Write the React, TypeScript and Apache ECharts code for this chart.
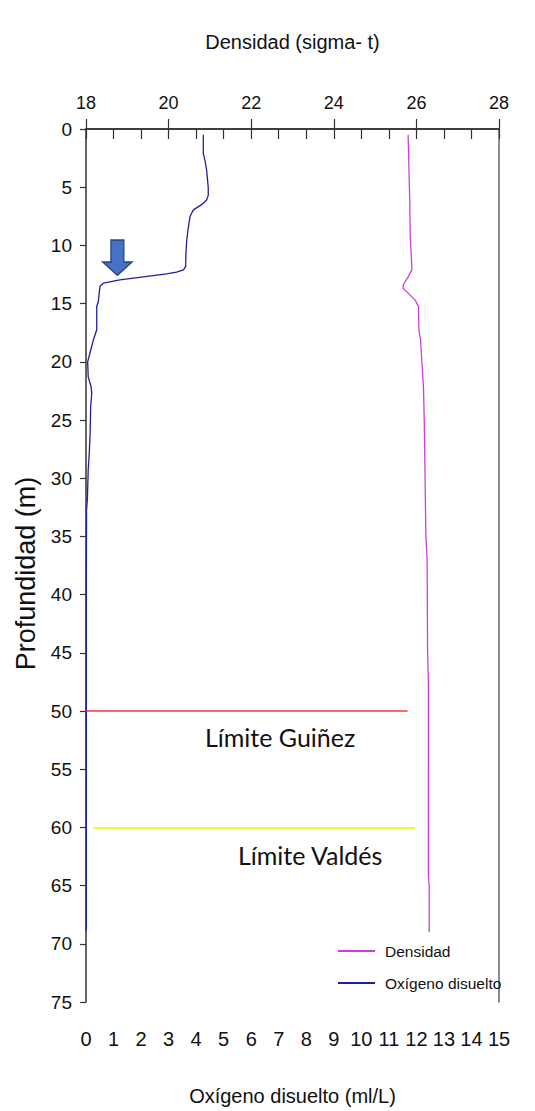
import React, { useEffect, useRef } from "react";
import * as echarts from "echarts";

// Oxygen profile (depth m, ml/L)
const oxyDepth = [0.5, 2.1, 2.7, 3.5, 5.0, 5.7, 6.1, 6.5, 6.95, 7.5, 8.4, 9.5, 10.6, 11.8, 12.1, 12.3, 12.45, 12.7, 12.96, 13.25, 13.5, 14.1, 14.8, 15.25, 17.25, 18.1, 19.2, 20.0, 21.3, 22.1, 22.7, 23.8, 26.1, 27.8, 29.3, 31.8, 32.7, 40, 50, 60, 68.9];
const oxyValue = [4.26, 4.26, 4.32, 4.38, 4.44, 4.44, 4.38, 4.2, 3.9, 3.78, 3.72, 3.66, 3.63, 3.62, 3.54, 3.29, 2.93, 2.08, 1.23, 0.63, 0.51, 0.48, 0.45, 0.39, 0.39, 0.27, 0.15, 0.06, 0.08, 0.18, 0.21, 0.17, 0.15, 0.12, 0.08, 0.05, 0.02, 0.01, 0.01, 0.01, 0.01];

// Density profile (depth m, sigma-t)
const densDepth = [0.5, 3.5, 6.4, 9.2, 11.2, 12.1, 12.7, 13.4, 13.7, 14.1, 14.7, 15.25, 17.25, 18.1, 20.4, 22.1, 25, 30, 35, 37, 44.7, 47.5, 64.2, 65, 69];
const densValue = [25.8, 25.82, 25.84, 25.85, 25.88, 25.89, 25.8, 25.68, 25.68, 25.8, 25.97, 26.05, 26.06, 26.1, 26.14, 26.17, 26.19, 26.21, 26.23, 26.26, 26.27, 26.29, 26.29, 26.31, 26.31];

// Axis tick settings
const densityRange = [18, 28, 2];
const oxygenRange = [0, 15, 1];
const depthRange = [0, 75, 5];

// Annotations
const limits = [
  { name: "Límite Guiñez", depth: 50, from: 0, to: 11.68, color: "#ff3535", labelAt: [7.05, 52.2] },
  { name: "Límite Valdés", depth: 60, from: 0.27, to: 11.95, color: "#f5f200", labelAt: [8.14, 62.4] },
];
const arrowAt = [1.14, 11.05];

const SANS = "'Liberation Sans', Arial, sans-serif";
const AX = "#333";

export default function App() {
  const ref = useRef<HTMLDivElement>(null);
  useEffect(() => {
    if (!ref.current) return;
    const chart = echarts.init(ref.current, undefined, { renderer: "svg" });
    const oxyData = oxyDepth.map((d, i) => [oxyValue[i], d]);
    const densData = densDepth.map((d, i) => [densValue[i], d]);
    const option: any = {
      animation: false,
      backgroundColor: "#fff",
      grid: { left: 86, right: 36, top: 129, bottom: 108, containLabel: false },
      legend: {
        orient: "vertical",
        left: 338,
        top: 942,
        padding: 0,
        itemWidth: 37,
        itemHeight: 2,
        itemGap: 14,
        icon: "rect",
        data: ["Densidad", "Oxígeno disuelto"],
        textStyle: { fontFamily: SANS, fontSize: 15.5, color: "#111", lineHeight: 18, padding: [0, 0, 0, 5] },
      },
      xAxis: [
        {
          type: "value",
          position: "top",
          min: densityRange[0],
          max: densityRange[1],
          interval: densityRange[2],
          name: "Densidad (sigma- t)",
          nameLocation: "middle",
          nameGap: 87,
          nameTextStyle: { fontFamily: SANS, fontSize: 20, color: "#111", verticalAlign: "middle" },
          axisLine: { show: true, lineStyle: { color: AX, width: 1.5 } },
          axisTick: { show: true, length: 10, lineStyle: { color: AX, width: 1.2 } },
          axisLabel: { fontFamily: SANS, fontSize: 18, color: "#111", margin: 17 },
          splitLine: { show: false },
        },
        {
          type: "value",
          position: "bottom",
          min: oxygenRange[0],
          max: oxygenRange[1],
          interval: oxygenRange[2],
          name: "Oxígeno disuelto (ml/L)",
          nameLocation: "middle",
          nameGap: 94,
          nameTextStyle: { fontFamily: SANS, fontSize: 20, color: "#111", verticalAlign: "middle" },
          axisLine: { show: true, lineStyle: { color: AX, width: 1.5 } },
          axisTick: { show: true, length: 10, lineStyle: { color: AX, width: 1.2 } },
          axisLabel: { fontFamily: SANS, fontSize: 20, color: "#111", margin: 27 },
          splitLine: { show: false },
        },
      ],
      yAxis: [
        {
          type: "value",
          inverse: true,
          min: depthRange[0],
          max: depthRange[1],
          interval: depthRange[2],
          name: "Profundidad (m)",
          nameLocation: "middle",
          nameGap: 59,
          nameTextStyle: { fontFamily: SANS, fontSize: 27, color: "#111", verticalAlign: "middle", padding: [0, 16, 0, 0] },
          axisLine: { show: true, lineStyle: { color: AX, width: 1.5 } },
          axisTick: { show: true, length: 6, lineStyle: { color: AX, width: 1.2 } },
          axisLabel: { fontFamily: SANS, fontSize: 19, color: "#111", margin: 14 },
          splitLine: { show: false },
        },
        {
          type: "value",
          position: "right",
          inverse: true,
          min: depthRange[0],
          max: depthRange[1],
          interval: depthRange[2],
          axisLine: { show: true, lineStyle: { color: "#666", width: 1.5 } },
          axisTick: { show: false },
          axisLabel: { show: false },
          splitLine: { show: false },
        },
      ],
      series: [
        {
          name: "Densidad",
          type: "line",
          xAxisIndex: 0,
          yAxisIndex: 0,
          data: densData,
          showSymbol: false,
          symbol: "none",
          color: "#cc3fdd",
          lineStyle: { color: "#cc3fdd", width: 1.3 },
          z: 3,
        },
        {
          name: "Oxígeno disuelto",
          type: "line",
          xAxisIndex: 1,
          yAxisIndex: 0,
          data: oxyData,
          showSymbol: false,
          symbol: "none",
          color: "#1f1f9e",
          lineStyle: { color: "#1f1f9e", width: 1.3 },
          z: 4,
          markLine: {
            silent: true,
            symbol: ["none", "none"],
            label: { show: false },
            data: limits.map((l) => [
              { coord: [l.from, l.depth], lineStyle: { color: l.color, width: 1.6, type: "solid" } },
              { coord: [l.to, l.depth] },
            ]),
          },
          markPoint: {
            silent: true,
            data: [
              {
                coord: arrowAt,
                symbol: "path://M8.5,0 L20.5,0 L20.5,22 L28,22 L14.5,35 L1,22 L8.5,22 Z",
                symbolSize: [29, 35],
                itemStyle: { color: "#4472c4", borderColor: "#2f4a85", borderWidth: 1.5 },
                label: { show: false },
              },
              ...limits.map((l) => ({
                coord: l.labelAt,
                symbol: "circle",
                symbolSize: 0,
                itemStyle: { color: "transparent" },
                label: {
                  show: true,
                  position: "inside",
                  formatter: l.name,
                  fontFamily: "Lato, 'Open Sans', sans-serif",
                  fontSize: 25,
                  color: "#111",
                },
              })),
            ],
          },
        },
      ],
    };
    chart.setOption(option);
    return () => chart.dispose();
  }, []);
  return <div ref={ref} style={{ position: "fixed", left: 0, top: 0, width: 535, height: 1111, background: "#fff" }} />;
}
